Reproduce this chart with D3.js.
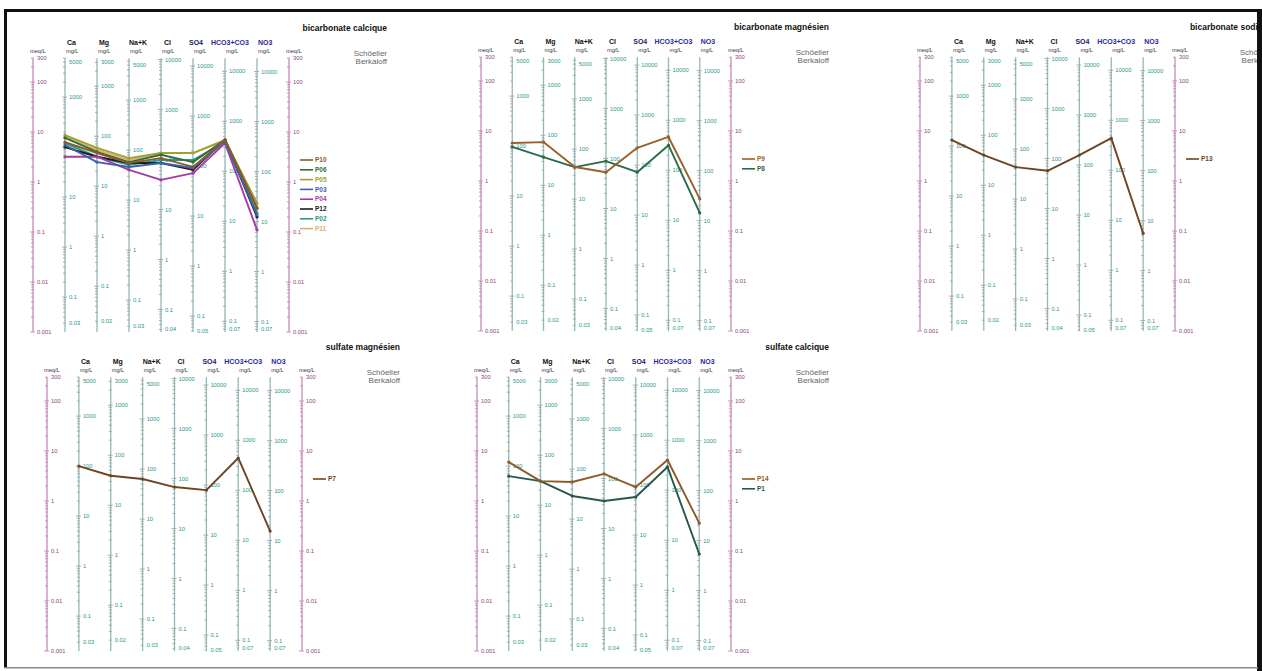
<!DOCTYPE html>
<html>
<head>
<meta charset="utf-8">
<script src="https://cdn.jsdelivr.net/npm/d3@7"></script>
<style>
  body { margin: 0; background: #fff; }
  svg { display: block; }
  text { font-family: Arial, "Liberation Sans", sans-serif; }
</style>
</head>
<body>
<svg id="chart" width="1262" height="671"></svg>
<script>
// ---- Ions shown on the Schoeller-Berkaloff diagram and their equivalent weights (mg per meq)
const columns = ["Ca", "Mg", "Na+K", "Cl", "SO4", "HCO3+CO3", "NO3"];
const eqWeights = [20.04, 12.15, 23.0, 35.45, 48.03, 61.02, 62.0];

// ---- Tick labels
const meqLabels = [300, 100, 10, 1, 0.1, 0.01, 0.001];
const meqLabelText = ["300", "100", "10", "1", "0.1", "0.01", "0.001"];
const mgDecades = [10000, 1000, 100, 10, 1, 0.1];
const colTopLabels = [5000, 3000, 5000, 10000, 10000, 10000, 10000];
const colBottomLabels = ["0.03", "0.02", "0.03", "0.04", "0.05", "0.07", "0.07"];

// ---- Water facies (one diagram each)
const titles = ["bicarbonate calcique", "bicarbonate magnésien", "bicarbonate sodique",
                "sulfate magnésien", "sulfate calcique"];

// ---- Samples, concentrations in meq/L (Ca, Mg, Na+K, Cl, SO4, HCO3+CO3, NO3)
const calciqueNames = ["P10", "P06", "P05", "P03", "P04", "P12", "P02", "P11"];
const calciqueValues = [
  [6.3, 3.8, 2.4, 3.0, 2.0, 7.0, 0.30],
  [7.6, 4.0, 2.5, 3.5, 2.5, 7.0, 0.30],
  [8.7, 4.8, 3.0, 3.8, 3.8, 6.9, 0.38],
  [5.5, 2.5, 2.0, 2.4, 1.9, 6.5, 0.22],
  [3.2, 3.2, 1.75, 1.1, 1.5, 6.0, 0.11],
  [5.0, 3.2, 2.4, 2.4, 1.75, 6.9, 0.20],
  [6.0, 3.2, 2.2, 2.75, 2.75, 6.3, 0.24],
  [8.0, 4.4, 2.75, 3.8, 3.8, 6.9, 0.35]
];
const calciqueColors = ["#8b5a2b", "#2f6f3f", "#a3a033", "#3b62b0", "#a63aa6", "#1c1c1c", "#2a9a8a", "#d9b26e"];

const magnesienNames = ["P9", "P8"];
const magnesienValues = [
  [5.75, 6.0, 1.9, 1.5, 4.6, 7.6, 0.44],
  [4.8, 3.0, 1.9, 2.5, 1.5, 5.2, 0.23]
];
const magnesienColors = ["#9a5f2a", "#2c6a48"];

const sodiqueNames = ["P13"];
const sodiqueValues = [[6.6, 3.3, 1.9, 1.6, 3.3, 7.2, 0.09]];
const sodiqueColors = ["#6e4420"];

const sulfMgNames = ["P7"];
const sulfMgValues = [[5.0, 3.2, 2.75, 1.9, 1.65, 7.25, 0.25]];
const sulfMgColors = ["#6e4420"];

const sulfCaNames = ["P14", "P1"];
const sulfCaValues = [
  [6.0, 2.5, 2.4, 3.5, 1.9, 6.6, 0.36],
  [3.15, 2.5, 1.26, 1.0, 1.2, 4.8, 0.087]
];
const sulfCaColors = ["#8f5a26", "#27584a"];

// ---- Page layout of the five diagrams
const layout = [
  { left: 33,  right: 289,  y10: 132 },
  { left: 481, right: 731,  y10: 131 },
  { left: 920, right: 1175, y10: 131 },
  { left: 47,  right: 302,  y10: 451 },
  { left: 477, right: 731,  y10: 451 }
];
const headerShift = [2, 2, 0, 3, -4, -14, 1];
const headerColors = ["#111", "#111", "#111", "#111", "#1c1c66", "#2a2a9c", "#2a2a9c"];

const panels = [
  { title: titles[0], names: calciqueNames, values: calciqueValues, colors: calciqueColors },
  { title: titles[1], names: magnesienNames, values: magnesienValues, colors: magnesienColors },
  { title: titles[2], names: sodiqueNames, values: sodiqueValues, colors: sodiqueColors },
  { title: titles[3], names: sulfMgNames, values: sulfMgValues, colors: sulfMgColors },
  { title: titles[4], names: sulfCaNames, values: sulfCaValues, colors: sulfCaColors }
].map((p, i) => Object.assign(p, layout[i]));

const svg = d3.select("#chart");
svg.append("rect").attr("width", 1262).attr("height", 671).attr("fill", "#fff");

const MEQ_AXIS = "#c58ab5", MEQ_TEXT = "#8a3f7c";
const COL_AXIS = "#8fb9bb", COL_TEXT = "#1f9a8c";

function ticksBetween(lo, hi) {
  const out = [];
  for (let n = -4; n <= 6; n++) {
    for (let k = 1; k <= 9; k++) {
      const v = k * Math.pow(10, n);
      if (v >= lo * 0.999 && v <= hi * 1.001) out.push({ v, major: k === 1 });
    }
  }
  return out;
}

panels.forEach(p => {
  const g = svg.append("g");
  const keys = ["meqL", ...columns, "meqR"];
  const x = d3.scalePoint().domain(keys).range([p.left, p.right]);
  const y = d3.scaleLog().domain([0.001, 300])
    .range([p.y10 + 200, p.y10 - 50 * Math.log10(30)]);
  const yTop = y(300), yBot = y(0.001);

  // meq/L axes on both sides
  ["meqL", "meqR"].forEach(k => {
    const ax = x(k);
    const a = g.append("g");
    a.append("line").attr("x1", ax).attr("x2", ax).attr("y1", yTop).attr("y2", yBot)
      .attr("stroke", MEQ_AXIS).attr("stroke-width", 1.3);
    a.selectAll("line.t").data(ticksBetween(0.001, 300)).join("line")
      .attr("class", "t")
      .attr("x1", d => ax - (d.major ? 3 : 2)).attr("x2", d => ax + (d.major ? 2 : 0.8))
      .attr("y1", d => y(d.v)).attr("y2", d => y(d.v))
      .attr("stroke", MEQ_AXIS).attr("stroke-width", 0.9);
    a.selectAll("text").data(meqLabels).join("text")
      .attr("x", ax + 4).attr("y", d => y(d)).attr("dy", "0.35em")
      .attr("font-size", 5.8).attr("fill", MEQ_TEXT).text((d, i) => meqLabelText[i]);
    g.append("text").attr("x", ax - 3).attr("y", yTop - 5)
      .attr("font-size", 5.6).attr("fill", "#333").text("meq/L");
  });

  // one mg/L axis per ion
  columns.forEach((c, i) => {
    const ax = x(c), w = eqWeights[i];
    const a = g.append("g");
    a.append("line").attr("x1", ax).attr("x2", ax).attr("y1", yTop).attr("y2", yBot)
      .attr("stroke", COL_AXIS).attr("stroke-width", 1.3);
    a.selectAll("line.t").data(ticksBetween(0.001 * w, 300 * w)).join("line")
      .attr("class", "t")
      .attr("x1", d => ax - (d.major ? 3 : 2)).attr("x2", d => ax + (d.major ? 2 : 0.8))
      .attr("y1", d => y(d.v / w)).attr("y2", d => y(d.v / w))
      .attr("stroke", "#9aa7a8").attr("stroke-width", 0.9);
    const labels = [{ v: colTopLabels[i], t: String(colTopLabels[i]) }]
      .concat(mgDecades.filter(d => d < colTopLabels[i] * 0.95).map(d => ({ v: d, t: String(d) })))
      .concat([{ v: +colBottomLabels[i], t: colBottomLabels[i] }]);
    a.selectAll("text").data(labels).join("text")
      .attr("x", ax + 4).attr("y", d => y(d.v / w)).attr("dy", "0.35em")
      .attr("font-size", 5.8).attr("fill", COL_TEXT).text(d => d.t);
    g.append("text").attr("x", ax + 1).attr("y", yTop - 5)
      .attr("font-size", 5.6).attr("fill", "#333").text("mg/L");
    g.append("text").attr("x", ax + headerShift[i]).attr("y", yTop - 13.5)
      .attr("font-size", 7).attr("font-weight", "bold").attr("fill", headerColors[i]).text(c);
  });

  // title block
  const tx = p.right + 98;
  g.append("text").attr("x", tx).attr("y", yTop - 27).attr("text-anchor", "end")
    .attr("font-size", 8.5).attr("font-weight", "bold").attr("fill", "#111").text(p.title);
  g.append("text").attr("x", tx).attr("y", yTop - 2).attr("text-anchor", "end")
    .attr("font-size", 8).attr("fill", "#666").text("Schöeller");
  g.append("text").attr("x", tx).attr("y", yTop + 5.5).attr("text-anchor", "end")
    .attr("font-size", 8).attr("fill", "#666").text("Berkaloff");

  // sample profiles
  const line = d3.line().x((d, i) => x(columns[i])).y(d => y(d));
  const order = p.values.map((v, i) => i).reverse();
  order.forEach(si => {
    g.append("path").attr("d", line(p.values[si])).attr("fill", "none")
      .attr("stroke", p.colors[si]).attr("stroke-width", 1.9).attr("stroke-linejoin", "round");
    g.selectAll(null).data(p.values[si]).join("circle")
      .attr("cx", (d, i) => x(columns[i])).attr("cy", d => y(d)).attr("r", 1.6)
      .attr("fill", p.colors[si]);
  });

  // legend
  p.names.forEach((n, si) => {
    const ly = p.y10 + 28 + si * 9.8;
    g.append("line").attr("x1", p.right + 11).attr("x2", p.right + 24)
      .attr("y1", ly).attr("y2", ly).attr("stroke", p.colors[si]).attr("stroke-width", 1.6);
    g.append("text").attr("x", p.right + 26).attr("y", ly).attr("dy", "0.35em")
      .attr("font-size", 6.5).attr("font-weight", "bold").attr("fill", p.colors[si]).text(n);
  });
});

// page frame
svg.append("rect").attr("x", 4).attr("y", 9).attr("width", 3).attr("height", 659).attr("fill", "#111");
svg.append("rect").attr("x", 4).attr("y", 9).attr("width", 1258).attr("height", 3).attr("fill", "#111");
svg.append("rect").attr("x", 1257).attr("y", 9).attr("width", 5).attr("height", 662).attr("fill", "#111");
svg.append("rect").attr("x", 4).attr("y", 667).attr("width", 1254).attr("height", 1.5).attr("fill", "#8a8a8a");
</script>
</body>
</html>
